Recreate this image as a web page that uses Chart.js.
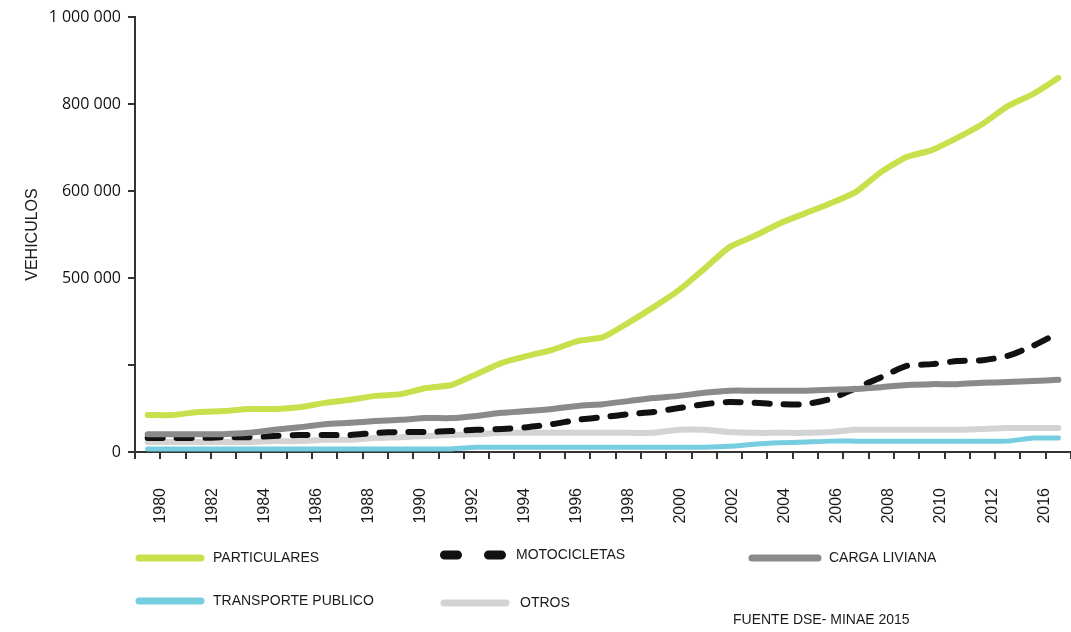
<!DOCTYPE html>
<html>
<head>
<meta charset="utf-8">
<title>Vehículos</title>
<script src="https://cdn.jsdelivr.net/npm/chart.js@4.4.1/dist/chart.umd.min.js"></script>
<style>
  html, body { margin: 0; padding: 0; background: #fff; }
  #wrap { width: 1071px; height: 632px; }
</style>
</head>
<body>
<div id="wrap"><canvas id="vehiculos" width="1071" height="632"></canvas></div>
<script>
// ---------------- datos ----------------
var years = ['1980', '1981', '1982', '1983', '1984', '1985', '1986', '1987', '1988', '1989',
             '1990', '1991', '1992', '1993', '1994', '1995', '1996', '1997', '1998', '1999',
             '2000', '2001', '2002', '2003', '2004', '2005', '2006', '2007', '2008', '2009',
             '2010', '2011', '2012', '2013', '2014', '2015', '2016'];

var particulares = [85000, 85000, 92000, 94000, 99000, 99000, 103000, 113000, 120000, 129000,
                    133000, 147000, 154000, 179000, 205000, 221000, 235000, 255000, 264000, 297000,
                    333000, 372000, 421000, 471000, 497000, 526000, 549000, 572000, 598000, 644000,
                    678000, 694000, 722000, 754000, 795000, 823000, 860000];

var motocicletas = [32000, 32000, 32000, 34000, 34000, 37000, 39000, 39000, 39000, 44000,
                    46000, 46000, 48000, 51000, 53000, 57000, 64000, 74000, 80000, 87000,
                    92000, 101000, 110000, 115000, 113000, 110000, 110000, 122000, 147000, 172000,
                    198000, 202000, 209000, 211000, 221000, 244000, 274000];

var cargaLiviana = [41000, 41000, 41000, 41000, 44000, 51000, 57000, 64000, 67000, 71000,
                    74000, 78000, 78000, 83000, 90000, 94000, 99000, 106000, 110000, 117000,
                    124000, 129000, 136000, 141000, 141000, 141000, 141000, 143000, 145000, 149000,
                    154000, 156000, 156000, 159000, 161000, 163000, 166000];

var transportePublico = [7000, 7000, 7000, 7000, 7000, 7000, 7000, 7000, 7000, 7000,
                         7000, 7000, 7000, 11000, 11000, 11000, 11000, 11000, 11000, 11000,
                         11000, 11000, 11000, 13000, 18000, 21000, 23000, 25000, 25000, 25000,
                         25000, 25000, 25000, 25000, 25000, 32000, 32000];

var otros = [23000, 23000, 23000, 23000, 23000, 25000, 25000, 28000, 28000, 32000,
             34000, 37000, 39000, 41000, 44000, 44000, 44000, 44000, 44000, 44000,
             44000, 51000, 51000, 46000, 44000, 44000, 44000, 46000, 51000, 51000,
             51000, 51000, 51000, 53000, 55000, 55000, 55000];

// etiquetas de los ejes
var xTickLabels = ['1980', '1982', '1984', '1986', '1988', '1990', '1992', '1994', '1996',
                   '1998', '2000', '2002', '2004', '2006', '2008', '2010', '2012', '2016'];
var yTickLabels = ['0', '', '500 000', '600 000', '800 000', '1 000 000'];

var fuente = 'FUENTE DSE- MINAE 2015';

// ---------------- leyenda inferior ----------------
// [serie, inicio muestra, fin muestra, x texto, y]
var legendLayout = [
  ['PARTICULARES', 139, 201, 213, 558],
  ['MOTOCICLETAS', 444.5, 503, 516, 555],
  ['CARGA LIVIANA', 752, 818, 829, 558],
  ['TRANSPORTE PUBLICO', 139, 201, 213, 601],
  ['OTROS', 444, 506, 520, 603]
];

var bottomLegend = {
  id: 'bottomLegend',
  afterDraw: function (chart) {
    var ctx = chart.ctx;
    ctx.save();
    ctx.font = '14px "Liberation Sans", Arial, sans-serif';
    ctx.textBaseline = 'middle';
    legendLayout.forEach(function (item) {
      var ds = chart.data.datasets.find(function (d) { return d.label === item[0]; });
      var dashed = ds.borderDash && ds.borderDash.length;
      ctx.beginPath();
      ctx.lineCap = 'round';
      ctx.strokeStyle = ds.borderColor;
      ctx.lineWidth = dashed ? 9 : 7;
      ctx.setLineDash(dashed ? [13, 31] : []);
      ctx.moveTo(item[1], item[4]);
      ctx.lineTo(item[2], item[4]);
      ctx.stroke();
      ctx.setLineDash([]);
      ctx.fillStyle = '#1a1a1a';
      ctx.fillText(item[0], item[3], item[4]);
    });
    ctx.fillText(fuente, 733, 620);
    ctx.restore();
  }
};

function serie(label, data, color, width, dash) {
  return {
    label: label,
    data: data,
    borderColor: color,
    backgroundColor: color,
    borderWidth: width,
    borderDash: dash || [],
    borderCapStyle: 'round',
    borderJoinStyle: 'round',
    tension: 0.2,
    pointRadius: 0,
    fill: false,
    xAxisID: 'x'
  };
}

var ctx1 = document.getElementById('vehiculos');
var vehiculos = new Chart(ctx1, {
  type: 'line',
  data: {
    labels: years,
    datasets: [
      serie('PARTICULARES', particulares, '#cadf4c', 6),
      serie('CARGA LIVIANA', cargaLiviana, '#8a8a8a', 6),
      serie('MOTOCICLETAS', motocicletas, '#111111', 6, [15, 14]),
      serie('OTROS', otros, '#d3d3d3', 6),
      serie('TRANSPORTE PUBLICO', transportePublico, '#76cde0', 5)
    ]
  },
  options: {
    responsive: false,
    animation: false,
    layout: { padding: { top: 17, right: 0, bottom: 90, left: 0 } },
    plugins: {
      legend: { display: false },
      tooltip: { enabled: false }
    },
    scales: {
      x: {
        type: 'category',
        position: 'bottom',
        offset: true,
        grid: { display: true, drawOnChartArea: false, offset: true, tickLength: 7, color: '#333', lineWidth: 2 },
        border: { display: true, color: '#333', width: 2 },
        ticks: { display: false, autoSkip: false },
        afterFit: function (s) { s.height = 10; s.paddingLeft = 0; s.paddingRight = 0; }
      },
      x2: {
        type: 'category',
        position: 'bottom',
        labels: xTickLabels,
        offset: true,
        grid: { display: false, drawTicks: false },
        border: { display: false },
        ticks: {
          autoSkip: false,
          maxRotation: 90,
          minRotation: 90,
          padding: 26,
          color: '#1a1a1a',
          font: { family: '"Liberation Sans", Arial, sans-serif', size: 16 }
        },
        // sin relleno lateral: el área del gráfico llega al borde derecho
        afterFit: function (s) { s.height = 80; s.paddingLeft = 0; s.paddingRight = 0; }
      },
      y: {
        min: 0,
        max: 1000000,
        grid: { display: true, drawOnChartArea: false, tickLength: 7, color: '#333', lineWidth: 2 },
        border: { display: true, color: '#333', width: 2 },
        ticks: {
          stepSize: 200000,
          padding: 7,
          color: '#111',
          font: { family: '"Open Sans", sans-serif', size: 16 },
          callback: function (value, index) { return yTickLabels[index]; }
        },
        title: {
          display: true,
          text: 'VEHICULOS',
          color: '#1a1a1a',
          padding: { top: 23, bottom: 0 },
          font: { family: '"Liberation Sans", Arial, sans-serif', size: 16 }
        },
        afterFit: function (s) { s.width = 135; }
      }
    }
  },
  plugins: [bottomLegend]
});
</script>
</body>
</html>
